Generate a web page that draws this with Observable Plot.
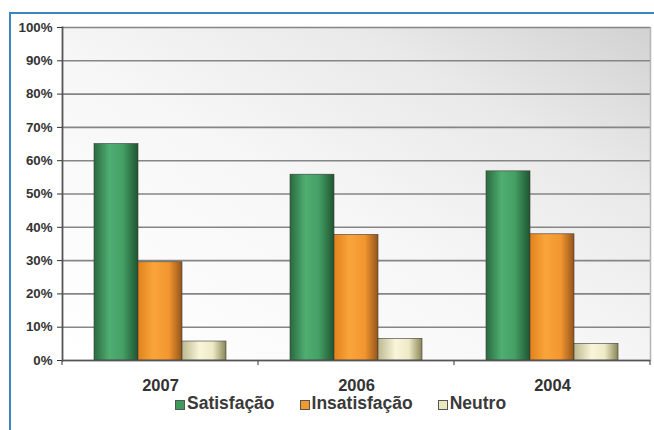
<!DOCTYPE html>
<html><head><meta charset="utf-8">
<script src="https://cdn.jsdelivr.net/npm/d3@7"></script>
<script src="https://cdn.jsdelivr.net/npm/@observablehq/plot@0.6"></script>
<style>
html,body{margin:0;padding:0;background:#fff;width:654px;height:430px;overflow:hidden;font-family:"Liberation Sans",Arial,sans-serif;}
#box{position:absolute;left:9px;top:12px;width:645px;height:418px;border-left:2px solid #3b86be;border-top:2px solid #3b86be;box-sizing:border-box;}
#chart{position:absolute;left:11px;top:14px;}
#legend{position:absolute;left:175px;top:395px;display:flex;align-items:center;font-weight:bold;font-size:17.5px;color:#3a3a3a;white-space:nowrap;line-height:1;}
#legend .item{display:flex;align-items:center;margin-right:25px;}
#legend .sw{display:inline-block;width:8px;height:8px;border:1px solid #555;margin-right:2px;margin-top:2px;}
</style>
</head><body>
<div id="box"></div>
<div id="chart"></div>
<div id="legend"></div>
<script>
const years = ["2007", "2006", "2004"];
const series = ["Satisfação", "Insatisfação", "Neutro"];
const satisfacao = [65, 55.8, 56.8];
const insatisfacao = [29.5, 37.7, 37.9];
const neutro = [5.7, 6.5, 5.0];
const yTicks = [0, 10, 20, 30, 40, 50, 60, 70, 80, 90, 100];

const seriesValues = [satisfacao, insatisfacao, neutro];
const seriesColors = ["#3f9a5e", "#f39a2e", "#ece7bd"];
const gradStops = [
  [["0", "#2a6a3e"], ["0.35", "#4fae72"], ["0.65", "#45a066"], ["1", "#1f5530"]],
  [["0", "#e2821c"], ["0.35", "#f9a53a"], ["0.7", "#f29630"], ["1", "#94551a"]],
  [["0", "#bdb88e"], ["0.4", "#f8f5da"], ["0.7", "#eeeac6"], ["1", "#8a8558"]]
];

const rows = [];
years.forEach((y, i) => series.forEach((s, j) => rows.push({year: y, series: s, value: seriesValues[j][i]})));

const plot = Plot.plot({
  width: 643,
  height: 382,
  marginLeft: 51,
  marginRight: 4,
  marginTop: 13,
  marginBottom: 36,
  style: {fontFamily: "'Liberation Sans', Arial, sans-serif", background: "transparent"},
  fx: {domain: years, padding: 0, label: null, axis: null},
  x: {domain: series, paddingInner: 0, paddingOuter: 0.727, axis: null},
  y: {domain: [0, 100], label: null, axis: null},
  marks: [
    Plot.frame({facet: "super", fill: "url(#bgGrad)", stroke: null}),
    Plot.gridY(yTicks, {stroke: "#858585", strokeOpacity: 1, strokeWidth: 1.6}),
    Plot.frame({facet: "super", anchor: "right", stroke: "#b5b5b5", strokeWidth: 1.5}),
    ...series.map((s, j) => Plot.barY(rows.filter(r => r.series === s), {
      fx: "year", x: "series", y: "value",
      fill: `url(#grad${j})`, stroke: "#3a3a3a", strokeWidth: 0.6
    })),
    Plot.ruleY([0], {stroke: "#555", strokeWidth: 1.6}),
    Plot.frame({facet: "super", anchor: "left", stroke: "#555", strokeWidth: 1.8}),
    Plot.axisY({ticks: yTicks, tickFormat: d => d + "%", tickSize: 5, tickPadding: 5,
      fontSize: 13.3, fontWeight: "bold", color: "#333", label: null}),
    Plot.axisFx({anchor: "bottom", tickSize: 0, tickPadding: 19, fontSize: 16.5,
      fontWeight: "bold", color: "#333", label: null})
  ]
});

const svg = d3.select(plot);
const defs = svg.insert("defs", ":first-child");
const bg = defs.append("linearGradient").attr("id", "bgGrad")
  .attr("x1", 0).attr("y1", 1).attr("x2", 1).attr("y2", 0);
[["0", "#ffffff"], ["0.45", "#f7f7f7"], ["0.75", "#e9e9e9"], ["1", "#d2d2d2"]]
  .forEach(([o, c]) => bg.append("stop").attr("offset", o).attr("stop-color", c));
gradStops.forEach((stops, j) => {
  const g = defs.append("linearGradient").attr("id", "grad" + j)
    .attr("x1", 0).attr("y1", 0).attr("x2", 1).attr("y2", 0);
  stops.forEach(([o, c]) => g.append("stop").attr("offset", o).attr("stop-color", c));
});

// category boundary ticks below the axis, from the plot's own fx and y scales
try {
  const fxs = plot.scale("fx");
  const band = d3.scaleBand().domain(fxs.domain).range(fxs.range).paddingInner(0).paddingOuter(0);
  const y0 = plot.scale("y").apply(0);
  const bounds = years.map(y => band(y)).concat([band(years[years.length - 1]) + band.bandwidth()]);
  const g = svg.append("g");
  bounds.forEach(b => g.append("line").attr("x1", b).attr("x2", b).attr("y1", y0).attr("y2", y0 + 5)
    .attr("stroke", "#555").attr("stroke-width", 1.2));
} catch (e) {}

document.getElementById("chart").appendChild(plot);

const legend = d3.select("#legend");
series.forEach((s, j) => {
  const it = legend.append("div").attr("class", "item");
  it.append("span").attr("class", "sw").style("background", seriesColors[j]);
  it.append("span").text(s);
});
</script>
</body></html>
